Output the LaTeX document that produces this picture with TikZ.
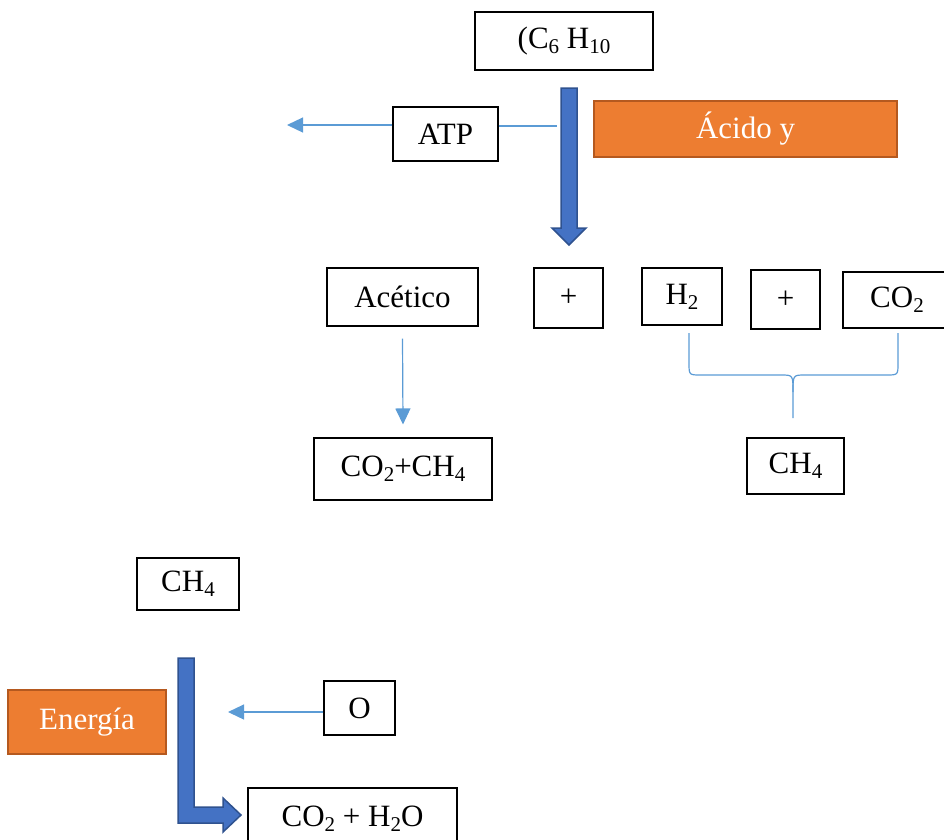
\documentclass[tikz,border=0pt]{standalone}
\usepackage{fontspec}
\setmainfont{Liberation Serif}
\usetikzlibrary{arrows.meta}
\definecolor{boxorange}{HTML}{ED7D31}
\definecolor{boxorangeedge}{HTML}{B5591F}
\definecolor{flowblue}{HTML}{4472C4}
\definecolor{flowblueedge}{HTML}{2F528F}
\definecolor{thinblue}{HTML}{5B9BD5}
\newcommand\chsub[1]{\raisebox{-5pt}{\fontsize{21}{21}\selectfont #1}}
\begin{document}
\begin{tikzpicture}[x=1pt,y=-1pt,
  every node/.style={font=\fontsize{31}{36}\selectfont, inner sep=0pt},
  chembox/.style={draw=black, line width=1.1pt, fill=white, minimum width=#1},
  chembox/.default=100pt,
  stagebox/.style={draw=boxorangeedge, line width=2pt, fill=boxorange, text=white},
  thinline/.style={draw=thinblue, line width=1.2pt},
  thinarrow/.style={thinline, -{Triangle[length=16pt,width=15pt]}},
  bigarrow/.style={fill=flowblue, draw=flowblueedge, line width=1.5pt, line join=miter}]
\useasboundingbox (0,0) rectangle (944,839);
\begin{scope}
\clip (0,0) rectangle (944,839);

% upper half: decomposition of (C6 H10
\node[chembox=178pt, minimum height=58pt] (c6) at (564,41) {(C\chsub{6} H\chsub{10}};
\node[chembox=105pt, minimum height=54pt] (atp) at (445.5,134) {ATP};
\node[stagebox, minimum width=303pt, minimum height=56pt] (acido) at (745.5,129) {Ácido y};

\node[chembox=151pt, minimum height=58pt] (acetico) at (402.5,297) {Acético};
\node[chembox=69pt, minimum height=60pt] (plusa) at (568.5,298) {+};
\node[chembox=80pt, minimum height=57pt] (h2) at (682,296.5) {H\chsub{2}};
\node[chembox=69pt, minimum height=59pt] (plusb) at (785.5,299.5) {+};
\node[chembox=108pt, minimum height=56pt] (co2) at (897,300) {CO\chsub{2}};

\node[chembox=178pt, minimum height=62pt] (co2ch4) at (403,469) {CO\chsub{2}+CH\chsub{4}};
\node[chembox=97pt, minimum height=56pt] (ch4b) at (795.5,466) {CH\chsub{4}};

% main flow arrow
\path[bigarrow] (561,88) -- (577,88) -- (577,228) -- (586,228) -- (569,245)
  -- (552,228) -- (561,228) -- cycle;

% ATP branch
\coordinate (atpjoin) at (557,126);
\coordinate (atpout) at (287,125);
\draw[thinline] (atp.east |- atpjoin) -- (atpjoin);
\draw[thinarrow] (atp.west |- atpout) -- (atpout);

% acetic route
\draw[thinarrow] ([yshift=-12pt]acetico.south) -- ([yshift=13pt]co2ch4.north);

% brace joining H2 and CO2
\coordinate (bl) at (689,333);
\coordinate (br) at (898,333);
\coordinate (bm) at (793,418);
\draw[thinline] (bl) -- (689,363) .. controls (689,375) .. (701,375) -- (781,375)
  .. controls (793,375) .. (793,392) -- (bm);
\draw[thinline] (br) -- (898,363) .. controls (898,375) .. (886,375) -- (805,375)
  .. controls (793,375) .. (793,392);

% lower half: combustion of methane
\node[chembox=102pt, minimum height=52pt] (ch4c) at (188,584) {CH\chsub{4}};
\node[stagebox, minimum width=158pt, minimum height=64pt] (energia) at (87,722) {Energía};
\node[chembox=71pt, minimum height=54pt] (obox) at (359.5,708) {O};
\node[chembox=209pt, minimum height=62pt] (co2h2o) at (352.5,819) {CO\chsub{2} + H\chsub{2}O};

\path[bigarrow] (178,658) -- (194,658) -- (194,807) -- (223,807) -- (223,798)
  -- (241,815) -- (223,832) -- (223,823) -- (178,823) -- cycle;

\coordinate (oin) at (228,712);
\draw[thinarrow] (obox.west |- oin) -- (oin);
\end{scope}
\end{tikzpicture}
\end{document}
